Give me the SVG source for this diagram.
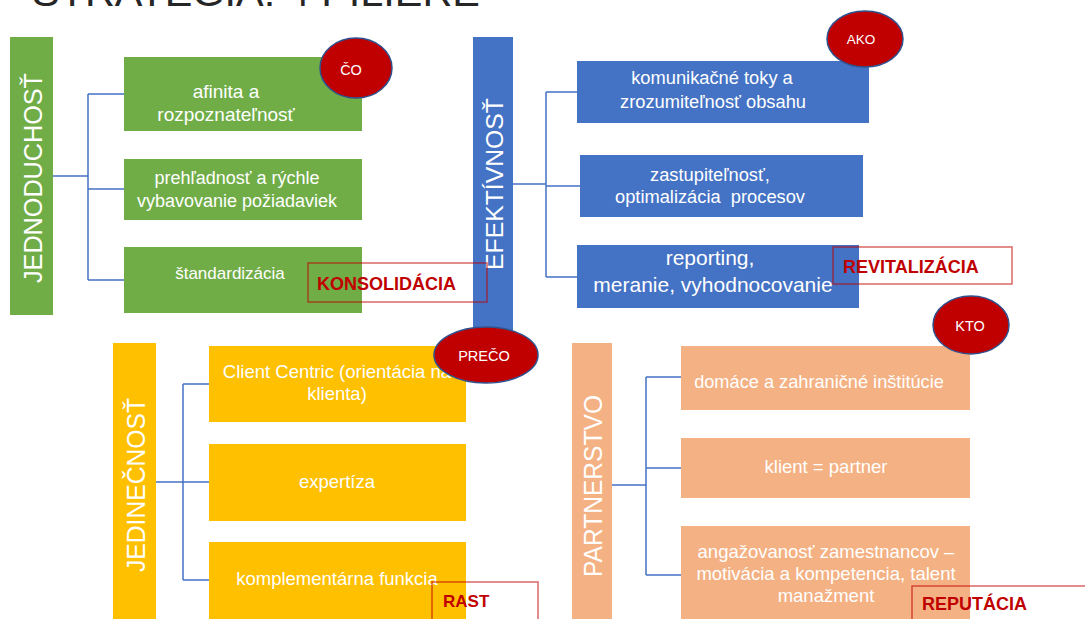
<svg xmlns="http://www.w3.org/2000/svg" width="1085" height="619" viewBox="0 0 1085 619">
<style>
.t{font-family:"Liberation Sans",Arial,sans-serif;fill:#ffffff;text-anchor:middle}
.v{font-family:"Liberation Sans",Arial,sans-serif;fill:#ffffff;text-anchor:middle}
.conn{stroke:#4472C4;stroke-width:1.5;fill:none}
.tag{fill:none;stroke:#C00000;stroke-opacity:0.6;stroke-width:1.5}
.tagt{font-family:"Liberation Sans",Arial,sans-serif;font-weight:bold;fill:#C00000;font-size:18px}
.oval{fill:#C00000;stroke:#2F528F;stroke-width:1.5}
.ot{font-family:"Liberation Sans",Arial,sans-serif;fill:#ffffff;text-anchor:middle;font-size:14.5px}
.g{fill:#70AD47}.b{fill:#4472C4}.y{fill:#FFC000}.o{fill:#F4B183}
</style>
<rect width="1085" height="619" fill="#ffffff"/>
<g id="title"><text x="32" y="6" font-family="Liberation Sans,Arial,sans-serif" font-size="41" fill="#262626" textLength="448" lengthAdjust="spacingAndGlyphs">STRATEGIA: 4 PILIERE</text></g>

<!-- pillars -->
<g id="pillar-jednoduchost"><rect class="g" x="10" y="37" width="43" height="278"/>
<text class="v" font-size="25" transform="translate(42,178) rotate(-90)" textLength="210" lengthAdjust="spacingAndGlyphs">JEDNODUCHOSŤ</text></g>
<g id="pillar-efektivnost"><rect class="b" x="473" y="37" width="40" height="301"/>
<text class="v" font-size="23" transform="translate(503,184) rotate(-90)" textLength="172" lengthAdjust="spacingAndGlyphs">EFEKTÍVNOSŤ</text></g>
<g id="pillar-jedinecnost"><rect class="y" x="113" y="343" width="43" height="280"/>
<text class="v" font-size="25" transform="translate(145,485) rotate(-90)" textLength="174" lengthAdjust="spacingAndGlyphs">JEDINEČNOSŤ</text></g>
<g id="pillar-partnerstvo"><rect class="o" x="572" y="343" width="40" height="280"/>
<text class="v" font-size="26" transform="translate(602,486) rotate(-90)" textLength="182" lengthAdjust="spacingAndGlyphs">PARTNERSTVO</text></g>

<!-- green boxes -->
<g id="g1"><rect class="g" x="124" y="57" width="238" height="74"/>
<text class="t" font-size="19" x="226" y="97.5">afinita a</text>
<text class="t" font-size="19" x="226" y="120.5">rozpoznateľnosť</text></g>
<g id="g2"><rect class="g" x="124" y="159" width="238" height="61"/>
<text class="t" font-size="18" x="237" y="184">prehľadnosť a rýchle</text>
<text class="t" font-size="18" x="237" y="207">vybavovanie požiadaviek</text></g>
<g id="g3"><rect class="g" x="124" y="247" width="238" height="66"/>
<text class="t" font-size="17" x="230" y="279">štandardizácia</text></g>

<!-- blue boxes -->
<g id="b1"><rect class="b" x="577" y="61" width="292" height="62"/>
<text class="t" font-size="18.3" x="712" y="84">komunikačné toky a</text>
<text class="t" font-size="18.3" x="713" y="108">zrozumiteľnosť obsahu</text></g>
<g id="b2"><rect class="b" x="580" y="155" width="283" height="62"/>
<text class="t" font-size="18.3" x="710" y="180.5">zastupiteľnosť,</text>
<text class="t" font-size="18.3" x="710" y="203" xml:space="preserve">optimalizácia  procesov</text></g>
<g id="b3"><rect class="b" x="577" y="245" width="282" height="63"/>
<text class="t" font-size="21" x="710" y="265">reporting,</text>
<text class="t" font-size="21" x="713" y="292">meranie, vyhodnocovanie</text></g>

<!-- yellow boxes -->
<g id="y1"><rect class="y" x="209" y="346" width="257" height="76"/>
<text class="t" font-size="18.5" x="337" y="378">Client Centric (orientácia na</text>
<text class="t" font-size="18.5" x="337" y="400">klienta)</text></g>
<g id="y2"><rect class="y" x="209" y="444" width="257" height="77"/>
<text class="t" font-size="18.5" x="337" y="488">expertíza</text></g>
<g id="y3"><rect class="y" x="209" y="542" width="257" height="82"/>
<text class="t" font-size="18.5" x="337" y="585">komplementárna funkcia</text></g>

<!-- orange boxes -->
<g id="o1"><rect class="o" x="681" y="346" width="289" height="64"/>
<text class="t" font-size="18.2" x="819" y="388">domáce a zahraničné inštitúcie</text></g>
<g id="o2"><rect class="o" x="681" y="438" width="289" height="60"/>
<text class="t" font-size="18.5" x="826" y="473">klient = partner</text></g>
<g id="o3"><rect class="o" x="681" y="526" width="289" height="98"/>
<text class="t" font-size="18.5" x="826" y="558">angažovanosť zamestnancov –</text>
<text class="t" font-size="18.5" x="826" y="580">motivácia a kompetencia, talent</text>
<text class="t" font-size="18.5" x="826" y="602">manažment</text></g>

<!-- connectors -->
<g id="connectors">
<path class="conn" d="M53,176 H88 M88,94 V280 M88,94 H124 M88,189 H124 M88,280 H124"/>
<path class="conn" d="M513,184 H546 M546,92 V277 M546,92 H577 M546,186 H580 M546,277 H577"/>
<path class="conn" d="M156,482 H183 M183,384 V580 M183,384 H209 M183,482 H209 M183,580 H209"/>
<path class="conn" d="M612,485 H646 M646,377 V575 M646,377 H681 M646,468 H681 M646,575 H681"/>
</g>

<!-- ovals -->
<g id="oval-co"><ellipse class="oval" cx="356" cy="68" rx="36" ry="30"/>
<text class="ot" x="351" y="75">ČO</text></g>
<g id="oval-ako"><ellipse class="oval" cx="865" cy="39" rx="38" ry="28"/>
<text class="ot" font-size="13.5" x="861" y="44" style="font-size:13.5px">AKO</text></g>
<g id="oval-preco"><ellipse class="oval" cx="486" cy="355" rx="52" ry="28"/>
<text class="ot" x="484" y="361">PREČO</text></g>
<g id="oval-kto"><ellipse class="oval" cx="971" cy="325" rx="38" ry="29"/>
<text class="ot" x="970" y="331">KTO</text></g>

<!-- tags -->
<g id="tag-konsolidacia"><rect class="tag" x="308" y="263" width="179" height="39"/>
<text class="tagt" x="317" y="290">KONSOLIDÁCIA</text></g>
<g id="tag-revitalizacia"><rect class="tag" x="833" y="247" width="179" height="37"/>
<text class="tagt" x="843" y="273">REVITALIZÁCIA</text></g>
<g id="tag-rast"><rect class="tag" x="432" y="582" width="106" height="45"/>
<text class="tagt" x="443" y="607" style="font-size:17px">RAST</text></g>
<g id="tag-reputacia"><rect class="tag" x="912" y="586" width="185" height="45"/>
<text class="tagt" x="922" y="610">REPUTÁCIA</text></g>
</svg>
